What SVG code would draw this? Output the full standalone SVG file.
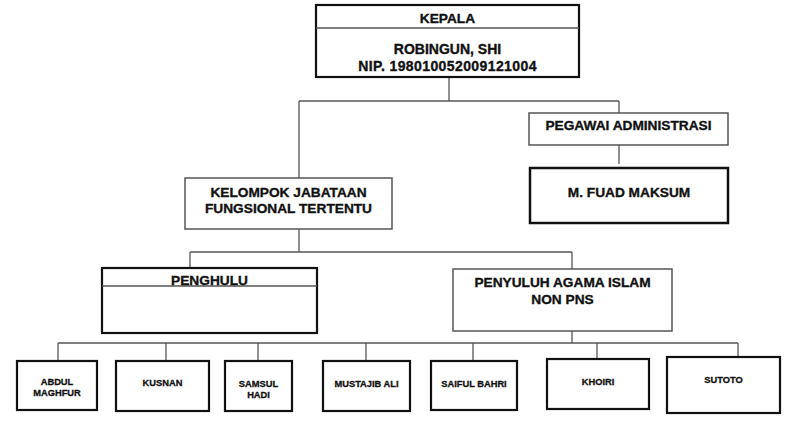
<svg xmlns="http://www.w3.org/2000/svg" width="800" height="432" viewBox="0 0 800 432">
<style>
  .bg{fill:#fff}
  .thick{fill:#fff;stroke:#111;stroke-width:2.2}
  .thin{fill:#fff;stroke:#555;stroke-width:1.5}
  .div{stroke:#555;stroke-width:1.5}
  .conn line{stroke:#555;stroke-width:1.3}
  text{font-family:"Liberation Sans",Arial,sans-serif;font-weight:bold;fill:#111;stroke:#111;stroke-width:0.35;text-anchor:middle}
  .m{font-size:13.7px}
  .s{font-size:9.3px;stroke-width:0.3}
</style>
<rect class="bg" x="0" y="0" width="800" height="432"/>
<g id="connectors" class="conn">
  <line x1="449" y1="77" x2="449" y2="101"/>
  <line x1="299" y1="101" x2="619" y2="101"/>
  <line x1="299" y1="101" x2="299" y2="178"/>
  <line x1="619" y1="101" x2="619" y2="113"/>
  <line x1="619" y1="145" x2="619" y2="164"/>
  <line x1="299" y1="229" x2="299" y2="252"/>
  <line x1="190" y1="252" x2="572" y2="252"/>
  <line x1="190" y1="252" x2="190" y2="268"/>
  <line x1="572" y1="252" x2="572" y2="269"/>
  <line x1="572" y1="325" x2="572" y2="343"/>
  <line x1="58" y1="343" x2="738" y2="343"/>
  <line x1="58" y1="343" x2="58" y2="361"/>
  <line x1="166" y1="343" x2="166" y2="361"/>
  <line x1="258" y1="343" x2="258" y2="361"/>
  <line x1="366" y1="343" x2="366" y2="361"/>
  <line x1="473" y1="343" x2="473" y2="361"/>
  <line x1="597" y1="343" x2="597" y2="359"/>
  <line x1="738" y1="343" x2="738" y2="357"/>
</g>
<g id="kepala">
  <rect class="thick" x="316" y="5" width="263" height="72"/>
  <line class="div" x1="316" y1="28" x2="579" y2="28"/>
  <text class="m" x="447.5" y="23">KEPALA</text>
  <text class="m" x="447.5" y="54" style="font-size:14px">ROBINGUN, SHI</text>
  <text class="m" x="447.5" y="71" style="font-size:14px;letter-spacing:0.4px">NIP. 198010052009121004</text>
</g>
<g id="pegawai">
  <rect class="thin" x="529" y="113" width="199" height="32"/>
  <text class="m" x="628.5" y="130">PEGAWAI ADMINISTRASI</text>
</g>
<g id="fuad">
  <rect class="thick" x="530" y="168" width="198" height="55" style="stroke-width:2.5"/>
  <text class="m" x="629" y="197">M. FUAD MAKSUM</text>
</g>
<g id="kelompok">
  <rect class="thin" x="185" y="178" width="207" height="51"/>
  <text class="m" x="288.5" y="197">KELOMPOK JABATAAN</text>
  <text class="m" x="288.5" y="213">FUNGSIONAL TERTENTU</text>
</g>
<g id="penghulu">
  <rect class="thick" x="102" y="268" width="215" height="65"/>
  <line class="div" x1="102" y1="286" x2="317" y2="286"/>
  <text class="m" x="209.5" y="285">PENGHULU</text>
</g>
<g id="penyuluh">
  <rect class="thin" x="453" y="269" width="219" height="62"/>
  <text class="m" x="562.5" y="287">PENYULUH AGAMA ISLAM</text>
  <text class="m" x="562.5" y="304">NON PNS</text>
</g>
<g id="abdul">
  <rect class="thick" x="17" y="361" width="80" height="49"/>
  <text class="s" x="57" y="385">ABDUL</text>
  <text class="s" x="57" y="396">MAGHFUR</text>
</g>
<g id="kusnan">
  <rect class="thick" x="116" y="361" width="93" height="50"/>
  <text class="s" x="162.5" y="386">KUSNAN</text>
</g>
<g id="samsul">
  <rect class="thick" x="225" y="361" width="67" height="50"/>
  <text class="s" x="258.5" y="387">SAMSUL</text>
  <text class="s" x="258.5" y="398">HADI</text>
</g>
<g id="mustajib">
  <rect class="thick" x="323" y="361" width="87" height="50"/>
  <text class="s" x="366.5" y="387">MUSTAJIB ALI</text>
</g>
<g id="saiful">
  <rect class="thick" x="431" y="361" width="86" height="49"/>
  <text class="s" x="474" y="387">SAIFUL BAHRI</text>
</g>
<g id="khoiri">
  <rect class="thick" x="547" y="359" width="102" height="50"/>
  <text class="s" x="598" y="385">KHOIRI</text>
</g>
<g id="sutoto">
  <rect class="thick" x="667" y="357" width="113" height="56"/>
  <text class="s" x="723.5" y="383">SUTOTO</text>
</g>
</svg>
